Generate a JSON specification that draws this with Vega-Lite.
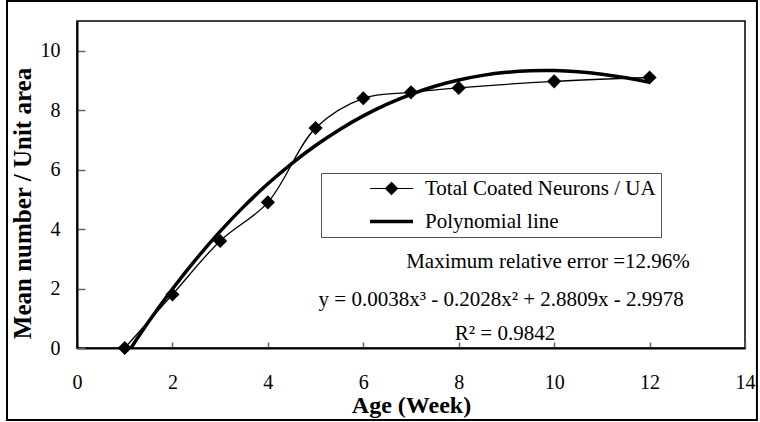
{
  "$schema": "https://vega.github.io/schema/vega-lite/v6.json",
  "width": 668,
  "height": 327,
  "autosize": {"type": "none"},
  "padding": {"left": 77, "top": 21, "right": 15, "bottom": 74},
  "background": "white",
  "config": {
    "font": "Liberation Serif",
    "view": {"stroke": "black", "strokeWidth": 1.5},
    "text": {"font": "Liberation Serif"},
    "axis": {
      "labelFont": "Liberation Serif",
      "titleFont": "Liberation Serif",
      "labelColor": "black",
      "titleColor": "black",
      "grid": false,
      "domainColor": "black",
      "domainWidth": 2,
      "tickColor": "#666666",
      "tickWidth": 1.5
    },
    "legend": {"labelFont": "Liberation Serif"}
  },
  "datasets": {
    "points": [
      {"week": 1, "value": 0, "series": "Total Coated Neurons / UA"},
      {"week": 2, "value": 1.8, "series": "Total Coated Neurons / UA"},
      {"week": 3, "value": 3.6, "series": "Total Coated Neurons / UA"},
      {"week": 4, "value": 4.9, "series": "Total Coated Neurons / UA"},
      {"week": 5, "value": 7.4, "series": "Total Coated Neurons / UA"},
      {"week": 6, "value": 8.4, "series": "Total Coated Neurons / UA"},
      {"week": 7, "value": 8.6, "series": "Total Coated Neurons / UA"},
      {"week": 8, "value": 8.75, "series": "Total Coated Neurons / UA"},
      {"week": 10, "value": 8.97, "series": "Total Coated Neurons / UA"},
      {"week": 12, "value": 9.1, "series": "Total Coated Neurons / UA"},
      {"week": 1, "value": -0.316, "series": "Polynomial line"},
      {"week": 1.5, "value": 0.880, "series": "Polynomial line"},
      {"week": 2, "value": 1.983, "series": "Polynomial line"},
      {"week": 2.5, "value": 2.996, "series": "Polynomial line"},
      {"week": 3, "value": 3.922, "series": "Polynomial line"},
      {"week": 3.5, "value": 4.764, "series": "Polynomial line"},
      {"week": 4, "value": 5.524, "series": "Polynomial line"},
      {"week": 4.5, "value": 6.206, "series": "Polynomial line"},
      {"week": 5, "value": 6.812, "series": "Polynomial line"},
      {"week": 5.5, "value": 7.345, "series": "Polynomial line"},
      {"week": 6, "value": 7.808, "series": "Polynomial line"},
      {"week": 6.5, "value": 8.203, "series": "Polynomial line"},
      {"week": 7, "value": 8.535, "series": "Polynomial line"},
      {"week": 7.5, "value": 8.805, "series": "Polynomial line"},
      {"week": 8, "value": 9.016, "series": "Polynomial line"},
      {"week": 8.5, "value": 9.171, "series": "Polynomial line"},
      {"week": 9, "value": 9.274, "series": "Polynomial line"},
      {"week": 9.5, "value": 9.326, "series": "Polynomial line"},
      {"week": 10, "value": 9.331, "series": "Polynomial line"},
      {"week": 10.5, "value": 9.292, "series": "Polynomial line"},
      {"week": 11, "value": 9.211, "series": "Polynomial line"},
      {"week": 11.5, "value": 9.092, "series": "Polynomial line"},
      {"week": 12, "value": 8.936, "series": "Polynomial line"}
    ],
    "notes": [
      {"label": "Maximum relative error =12.96%"},
      {"label": "y = 0.0038x³ - 0.2028x² + 2.8809x - 2.9978"},
      {"label": "R² = 0.9842"}
    ]
  },
  "layer": [
    {
      "data": {"name": "points"},
      "transform": [{"filter": "datum.series === 'Total Coated Neurons / UA'"}],
      "mark": {"type": "line", "interpolate": "catmull-rom", "strokeWidth": 1.3},
      "encoding": {
        "x": {
          "field": "week",
          "type": "quantitative",
          "scale": {"domain": [0, 14], "nice": false, "zero": false},
          "axis": {
            "title": "Age (Week)",
            "values": [0, 2, 4, 6, 8, 10, 12, 14],
            "tickSize": -6,
            "labelFontSize": 20,
            "labelPadding": 30,
            "labelFlush": false,
            "titleFontSize": 24,
            "titleFontWeight": "bold",
            "titlePadding": 1
          }
        },
        "y": {
          "field": "value",
          "type": "quantitative",
          "scale": {"domain": [0, 11], "nice": false, "zero": false},
          "axis": {
            "title": "Mean number / Unit area",
            "values": [0, 2, 4, 6, 8, 10],
            "tickSize": -8,
            "labelFontSize": 20,
            "labelPadding": 25,
            "labelFlush": false,
            "titleFontSize": 25,
            "titleFontWeight": "bold",
            "titlePadding": 5,
            "titleY": 182
          }
        },
        "color": {
          "field": "series",
          "type": "nominal",
          "scale": {"domain": ["Total Coated Neurons / UA", "Polynomial line"], "range": ["black", "black"]},
          "legend": {
            "orient": "none",
            "legendX": 244,
            "legendY": 152,
            "title": null,
            "direction": "vertical",
            "symbolSize": 1849,
            "symbolStrokeWidth": 1.2,
            "symbolOffset": 55,
            "labelFont": "Liberation Serif",
            "labelFontSize": 21,
            "labelColor": "black",
            "labelOffset": 23,
            "labelLimit": 500,
            "labelExpr": "datum.label + '\u00a0\u00a0\u00a0\u00a0\u00a0\u00a0\u00a0\u00a0\u00a0\u00a0\u00a0\u00a0\u00a0'",
            "padding": 5,
            "rowPadding": 11,
            "strokeColor": "#555555",
            "fillColor": "white",
            "encode": {
              "symbols": {
                "update": {
                  "shape": {"signal": "datum.value === 'Polynomial line' ? 'M-1,0H1' : 'M-1,0H1M0,-0.28L0.28,0L0,0.28L-0.28,0Z'"},
                  "strokeWidth": {"signal": "datum.value === 'Polynomial line' ? 3.5 : 1.2"},
                  "fill": {"value": "black"},
                  "stroke": {"value": "black"},
                  "opacity": {"value": 1}
                }
              }
            }
          }
        }
      }
    },
    {
      "data": {"name": "points"},
      "transform": [{"filter": "datum.series === 'Total Coated Neurons / UA'"}],
      "mark": {"type": "point", "shape": "diamond", "filled": true, "size": 200, "color": "black", "opacity": 1},
      "encoding": {
        "x": {"field": "week", "type": "quantitative"},
        "y": {"field": "value", "type": "quantitative"}
      }
    },
    {
      "data": {"name": "points"},
      "transform": [{"filter": "datum.series === 'Polynomial line'"}],
      "mark": {"type": "line", "interpolate": "natural", "strokeWidth": 3.5, "clip": true},
      "encoding": {
        "x": {"field": "week", "type": "quantitative"},
        "y": {"field": "value", "type": "quantitative"},
        "color": {"field": "series", "type": "nominal"}
      }
    },
    {
      "data": {"name": "notes"},
      "transform": [{"filter": "datum.label === 'R² = 0.9842'"}],
      "mark": {"type": "rect", "filled": false, "stroke": "black", "strokeWidth": 2, "clip": false},
      "encoding": {
        "x": {"datum": -1.467, "type": "quantitative"},
        "x2": {"datum": 14.25},
        "y": {"datum": -2.42, "type": "quantitative"},
        "y2": {"datum": 11.67}
      }
    },
    {
      "data": {"name": "notes"},
      "transform": [{"filter": "datum.label === 'Maximum relative error =12.96%'"}],
      "mark": {"type": "text", "font": "Liberation Serif", "fontSize": 21, "align": "center", "baseline": "middle", "color": "black"},
      "encoding": {
        "x": {"datum": 9.87, "type": "quantitative"},
        "y": {"datum": 2.89, "type": "quantitative"},
        "text": {"field": "label", "type": "nominal"}
      }
    },
    {
      "data": {"name": "notes"},
      "transform": [{"filter": "datum.label === 'y = 0.0038x³ - 0.2028x² + 2.8809x - 2.9978'"}],
      "mark": {"type": "text", "font": "Liberation Serif", "fontSize": 21, "align": "center", "baseline": "middle", "color": "black"},
      "encoding": {
        "x": {"datum": 8.89, "type": "quantitative"},
        "y": {"datum": 1.61, "type": "quantitative"},
        "text": {"field": "label", "type": "nominal"}
      }
    },
    {
      "data": {"name": "notes"},
      "transform": [{"filter": "datum.label === 'R² = 0.9842'"}],
      "mark": {"type": "text", "font": "Liberation Serif", "fontSize": 21, "align": "center", "baseline": "middle", "color": "black"},
      "encoding": {
        "x": {"datum": 8.97, "type": "quantitative"},
        "y": {"datum": 0.47, "type": "quantitative"},
        "text": {"field": "label", "type": "nominal"}
      }
    }
  ]
}
